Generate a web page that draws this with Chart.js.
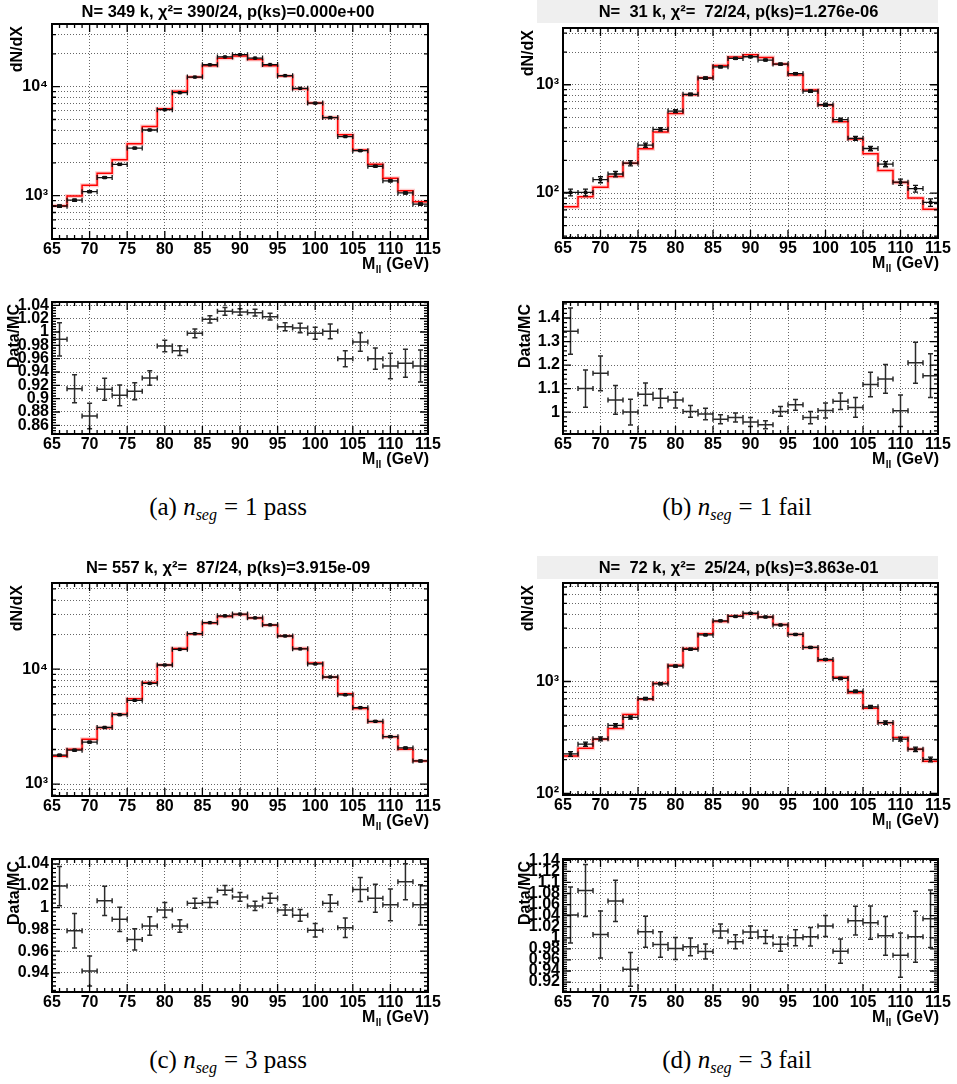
<!DOCTYPE html>
<html>
<head>
<meta charset="utf-8">
<title>Z mass, n_seg pass/fail</title>
<script src="https://cdn.jsdelivr.net/npm/chart.js@4.4.1/dist/chart.umd.min.js"></script>
<style>
  body { margin: 0; background: #fff; width: 957px; height: 1084px; position: relative; overflow: hidden; }
  canvas { position: absolute; }
  .caption { position: absolute; width: 340px; text-align: center; font-family: "Liberation Serif", "DejaVu Serif", serif; font-size: 25px; line-height: 28px; color: #000; white-space: nowrap; }
  .caption sub { font-size: 16px; font-style: italic; vertical-align: -5px; }
  .caption .eq { margin: 0 7px; }
</style>
</head>
<body>
<script>
// 2 GeV bins from 65 to 115 GeV
const binEdges = [65, 67, 69, 71, 73, 75, 77, 79, 81, 83, 85, 87, 89, 91, 93, 95, 97, 99, 101, 103, 105, 107, 109, 111, 113, 115];
const binCenters = [66, 68, 70, 72, 74, 76, 78, 80, 82, 84, 86, 88, 90, 92, 94, 96, 98, 100, 102, 104, 106, 108, 110, 112, 114];
const xLabels = [65, 70, 75, 80, 85, 90, 95, 100, 105, 110, 115];

// n_seg = 1, pass
const titlePass1 = 'N= 349 k, χ²= 390/24, p(ks)=0.000e+00';
const mcPass1 = [809, 993, 1245, 1603, 2138, 3000, 4300, 6280, 9060, 12270, 15600, 18200, 19100, 17800, 15600, 12530, 9590, 7080, 5200, 3630, 2625, 1938, 1442, 1111, 881];
const dataPass1 = [800, 909, 1088, 1465, 1935, 2733, 4003, 6148, 8806, 12245, 15896, 18764, 19673, 18316, 15959, 12630, 9648, 7066, 5205, 3485, 2586, 1860, 1368, 1059, 836];
const ratioPass1 = [0.989, 0.915, 0.874, 0.914, 0.905, 0.911, 0.931, 0.979, 0.972, 0.998, 1.019, 1.031, 1.030, 1.029, 1.023, 1.008, 1.006, 0.998, 1.001, 0.960, 0.985, 0.960, 0.949, 0.953, 0.949];
const ratioErrPass1 = [0.025, 0.021, 0.019, 0.0165, 0.0155, 0.0127, 0.011, 0.0085, 0.0072, 0.0065, 0.0055, 0.0057, 0.005, 0.005, 0.005, 0.006, 0.007, 0.009, 0.011, 0.012, 0.014, 0.016, 0.019, 0.021, 0.024];

// n_seg = 1, fail
const titleFail1 = 'N=  31 k, χ²=  72/24, p(ks)=1.276e-06';
const mcFail1 = [74.8, 92.5, 113.5, 142.5, 189, 256, 366, 543, 809, 1160, 1508, 1799, 1891, 1787, 1552, 1228, 893, 649, 455, 315, 231, 162, 125, 90, 71];
const dataFail1 = [101.5, 101.5, 133, 150, 189, 277, 388, 571, 815, 1152, 1463, 1750, 1812, 1690, 1552, 1266, 872, 654, 476, 320, 258, 185, 126, 110, 82];
const ratioFail1 = [1.344, 1.100, 1.165, 1.052, 1.000, 1.076, 1.059, 1.051, 1.003, 0.992, 0.970, 0.977, 0.958, 0.946, 1.003, 1.031, 0.977, 1.007, 1.046, 1.020, 1.117, 1.141, 1.006, 1.210, 1.155];
const ratioErrFail1 = [0.098, 0.079, 0.074, 0.061, 0.055, 0.048, 0.040, 0.033, 0.025, 0.024, 0.019, 0.019, 0.019, 0.017, 0.021, 0.023, 0.026, 0.032, 0.035, 0.042, 0.052, 0.061, 0.067, 0.087, 0.093];

// n_seg = 3, pass
const titlePass3 = 'N= 557 k, χ²=  87/24, p(ks)=3.915e-09';
const mcPass3 = [1750, 2014, 2461, 3090, 4062, 5523, 7656, 10900, 15140, 20300, 25300, 28700, 29900, 27950, 24130, 19500, 15140, 11350, 8520, 6100, 4550, 3485, 2580, 2014, 1585];
const dataPass3 = [1785, 1972, 2318, 3109, 4017, 5363, 7526, 10880, 14880, 20380, 25430, 29160, 30200, 27990, 24350, 19460, 15030, 11110, 8554, 5987, 4627, 3516, 2586, 2062, 1589];
const ratioPass3 = [1.0197, 0.9788, 0.9418, 1.0062, 0.9892, 0.9708, 0.9831, 0.9978, 0.9831, 1.004, 1.0046, 1.016, 1.0098, 1.0015, 1.0086, 0.9978, 0.9929, 0.9791, 1.004, 0.9815, 1.0166, 1.0086, 1.0025, 1.0237, 1.0025];
const ratioErrPass3 = [0.018, 0.0158, 0.0138, 0.0134, 0.0112, 0.0098, 0.0085, 0.0068, 0.0058, 0.0046, 0.0046, 0.0042, 0.004, 0.0042, 0.0046, 0.0048, 0.0054, 0.0062, 0.0077, 0.009, 0.011, 0.0128, 0.0145, 0.0165, 0.0185];

// n_seg = 3, fail
const titleFail3 = 'N=  72 k, χ²=  25/24, p(ks)=3.863e-01';
const mcFail3 = [216, 253, 305, 380, 506, 695, 966, 1400, 1975, 2675, 3446, 3845, 4035, 3767, 3240, 2634, 2014, 1541, 1093, 792, 577, 427, 315, 248, 194];
const dataFail3 = [225, 275, 307, 405, 477, 703, 954, 1373, 1943, 2609, 3488, 3817, 4076, 3774, 3203, 2634, 2018, 1574, 1066, 817, 593, 429, 305, 248, 201];
const ratioFail3 = [1.0412, 1.0855, 1.006, 1.0667, 0.943, 1.011, 0.9879, 0.9806, 0.9836, 0.9752, 1.0121, 0.9927, 1.0103, 1.0018, 0.9885, 1.0, 1.0018, 1.0212, 0.9758, 1.031, 1.0273, 1.0036, 0.9685, 1.0018, 1.0345];
const ratioErrFail3 = [0.0506, 0.047, 0.0424, 0.0373, 0.0306, 0.0279, 0.023, 0.02, 0.016, 0.0136, 0.0127, 0.0127, 0.011, 0.012, 0.0127, 0.0145, 0.0167, 0.019, 0.022, 0.026, 0.030, 0.035, 0.04, 0.046, 0.052];

const FONT = '"Liberation Sans", Arial, Helvetica, sans-serif';
Chart.defaults.font.family = FONT;
Chart.defaults.font.size = 16;
Chart.defaults.font.weight = 'bold';
Chart.defaults.color = '#000';

const SUP = { 0: '⁰', 1: '¹', 2: '²', 3: '³', 4: '⁴', 5: '⁵' };

function logTicks(min, max) {
  const out = [];
  for (let e = Math.floor(Math.log10(min)); e <= Math.ceil(Math.log10(max)); e++) {
    for (let s = 1; s <= 9; s++) {
      const v = s * Math.pow(10, e);
      if (v >= min && v <= max) out.push({ value: v, major: s === 1 });
    }
  }
  return out;
}

function linTicks(min, max, step) {
  const out = [];
  for (let k = Math.ceil(min / step - 1e-9); k * step <= max + 1e-9; k++) {
    out.push({ value: Math.round(k * step * 1e5) / 1e5 });
  }
  return out;
}

// ROOT-like pad: title, axis titles, framed box with inward ticks, error crosses
const rootPad = {
  id: 'rootPad',
  beforeDraw(chart, args, o) {
    if (!o.grey) return;
    const a = chart.chartArea, ctx = chart.ctx;
    ctx.save();
    ctx.fillStyle = '#efefef';
    ctx.fillRect(a.left - 26, a.top - o.titleDy - 12, a.right - a.left + 26, 23);
    ctx.restore();
  },
  afterDatasetsDraw(chart, args, o) {
    const ctx = chart.ctx, a = chart.chartArea;
    const xs = chart.scales.x, ys = chart.scales.y;

    ctx.save();
    ctx.beginPath();
    ctx.rect(a.left, a.top, a.right - a.left, a.bottom - a.top);
    ctx.clip();
    chart.data.datasets.forEach(ds => {
      if (!ds.errRel) return;
      ctx.strokeStyle = ds.crossColor;
      ctx.lineWidth = ds.crossWidth;
      ctx.beginPath();
      ds.data.forEach((d, i) => {
        const e = ds.errRel[i] * d.y;
        const px = xs.getPixelForValue(d.x), py = ys.getPixelForValue(d.y);
        const x0 = xs.getPixelForValue(d.x - 1), x1 = xs.getPixelForValue(d.x + 1);
        const y0 = ys.getPixelForValue(d.y + e), y1 = ys.getPixelForValue(d.y - e);
        ctx.moveTo(x0, py); ctx.lineTo(x1, py);
        ctx.moveTo(x0, py - 2.5); ctx.lineTo(x0, py + 2.5);
        ctx.moveTo(x1, py - 2.5); ctx.lineTo(x1, py + 2.5);
        ctx.moveTo(px, y0); ctx.lineTo(px, y1);
        ctx.moveTo(px - 2.5, y0); ctx.lineTo(px + 2.5, y0);
        ctx.moveTo(px - 2.5, y1); ctx.lineTo(px + 2.5, y1);
      });
      ctx.stroke();
    });
    ctx.restore();

    ctx.save();
    ctx.strokeStyle = '#000';
    ctx.lineWidth = 1.3;
    ctx.beginPath();
    for (let v = binEdges[0]; v <= binEdges[binEdges.length - 1]; v++) {
      const px = xs.getPixelForValue(v), len = v % 5 === 0 ? 8 : 4;
      ctx.moveTo(px, a.bottom); ctx.lineTo(px, a.bottom - len);
      ctx.moveTo(px, a.top); ctx.lineTo(px, a.top + len);
    }
    const yt = o.log
      ? logTicks(ys.min, ys.max)
      : linTicks(ys.min, ys.max, o.step / 5).map(t => ({
          value: t.value,
          major: Math.abs(t.value / o.step - Math.round(t.value / o.step)) < 1e-6
        }));
    yt.forEach(t => {
      const py = ys.getPixelForValue(t.value), len = t.major ? 8 : 4;
      ctx.moveTo(a.left, py); ctx.lineTo(a.left + len, py);
      ctx.moveTo(a.right, py); ctx.lineTo(a.right - len, py);
    });
    ctx.stroke();
    ctx.lineWidth = 2;
    ctx.strokeRect(a.left, a.top, a.right - a.left, a.bottom - a.top);
    ctx.restore();
  },
  afterDraw(chart, args, o) {
    const ctx = chart.ctx, a = chart.chartArea;
    const big = 'bold 16px ' + FONT, small = 'bold 10px ' + FONT;
    ctx.save();
    ctx.fillStyle = '#000';
    if (o.title) {
      ctx.font = 'bold 16.5px ' + FONT;
      ctx.textAlign = 'center';
      ctx.textBaseline = 'middle';
      ctx.fillText(o.title, (a.left + a.right) / 2 - 12, a.top - o.titleDy);
    }
    ctx.font = big;
    // rotated y title, anchored at the top of the frame
    ctx.save();
    ctx.translate(a.left - o.yTitleDx, a.top + 2);
    ctx.rotate(-Math.PI / 2);
    ctx.textAlign = 'right';
    ctx.textBaseline = 'middle';
    ctx.fillText(o.yTitle, 0, 0);
    ctx.restore();
    // x title M_ll (GeV), right aligned to the frame
    const yx = a.bottom + 26;
    ctx.textAlign = 'left';
    ctx.textBaseline = 'middle';
    const wM = ctx.measureText('M').width, tail = ' (GeV)', wT = ctx.measureText(tail).width;
    ctx.font = small;
    const wS = ctx.measureText('ll').width;
    const x0 = a.right - wM - wS - wT;
    ctx.font = big;
    ctx.fillText('M', x0, yx);
    ctx.font = small;
    ctx.fillText('ll', x0 + wM + 0.5, yx + 5);
    ctx.font = big;
    ctx.fillText(tail, x0 + wM + wS + 1, yx);
    ctx.restore();
  }
};

const PAD_L = 52, PAD_R = 22, PAD_T = 30, PAD_B = 40;

function addCanvas(f) {
  const c = document.createElement('canvas');
  const w = f.r - f.l + PAD_L + PAD_R, h = f.b - f.t + PAD_T + PAD_B;
  c.width = w; c.height = h;
  c.style.left = (f.l - PAD_L) + 'px';
  c.style.top = (f.t - PAD_T) + 'px';
  c.style.width = w + 'px';
  c.style.height = h + 'px';
  document.body.appendChild(c);
  return c;
}

function xAxis() {
  return {
    type: 'linear', min: 65, max: 115,
    afterBuildTicks: s => { s.ticks = xLabels.map(v => ({ value: v })); },
    afterFit: s => { s.height = PAD_B; },
    ticks: { autoSkip: false, maxRotation: 0, padding: 1, callback: v => String(v) },
    grid: { color: '#666', lineWidth: 1, drawTicks: false },
    border: { display: false, dash: [1, 2] }
  };
}

function stepPoints(values) {
  const pts = [];
  values.forEach((v, i) => {
    pts.push({ x: binEdges[i], y: v });
    pts.push({ x: binEdges[i + 1], y: v });
  });
  return pts;
}

function histPanel(p) {
  new Chart(addCanvas(p.frame), {
    type: 'line',
    data: {
      datasets: [
        { data: p.data.map((v, i) => ({ x: binCenters[i], y: v })), showLine: false,
          pointStyle: 'rect', pointRadius: 2.4, pointBackgroundColor: '#000', pointBorderWidth: 0,
          errRel: p.err.map((e, i) => e / p.ratio[i]), crossColor: '#111', crossWidth: 1.3 },
        { data: stepPoints(p.mc), borderColor: '#ff0000', borderWidth: 1.5, pointRadius: 0, tension: 0 },
        { data: stepPoints(p.mc), borderColor: 'rgba(255,80,80,0.28)', borderWidth: 4, pointRadius: 0, tension: 0 }
      ]
    },
    options: {
      responsive: false, animation: false,
      layout: { padding: { left: 0, right: PAD_R, top: PAD_T, bottom: 0 } },
      scales: {
        x: xAxis(),
        y: {
          type: 'logarithmic', min: p.yMin, max: p.yMax,
          afterBuildTicks: s => { s.ticks = logTicks(s.min, s.max); },
          afterFit: s => { s.width = PAD_L; },
          ticks: {
            autoSkip: false, padding: 4,
            callback: v => {
              const e = Math.log10(v), r = Math.round(e);
              return Math.abs(e - r) < 1e-9 ? '10' + SUP[r] : '';
            }
          },
          grid: { color: '#666', lineWidth: 1, drawTicks: false },
          border: { display: false, dash: [1, 2] }
        }
      },
      plugins: {
        legend: { display: false }, tooltip: { enabled: false },
        rootPad: { log: true, title: p.title, titleDy: p.titleDy, grey: p.grey, yTitle: 'dN/dX', yTitleDx: 34 }
      }
    },
    plugins: [rootPad]
  });
}

function ratioPanel(p) {
  new Chart(addCanvas(p.frame), {
    type: 'line',
    data: {
      datasets: [
        { data: p.ratio.map((v, i) => ({ x: binCenters[i], y: v })), showLine: false, pointRadius: 0,
          errRel: p.err.map((e, i) => e / p.ratio[i]), crossColor: '#2a2a2a', crossWidth: 1.5 }
      ]
    },
    options: {
      responsive: false, animation: false,
      layout: { padding: { left: 0, right: PAD_R, top: PAD_T, bottom: 0 } },
      scales: {
        x: xAxis(),
        y: {
          type: 'linear', min: p.yMin, max: p.yMax,
          afterBuildTicks: s => { s.ticks = linTicks(s.min, s.max, p.step); },
          afterFit: s => { s.width = PAD_L; },
          ticks: { autoSkip: false, padding: 3, callback: v => String(parseFloat(v.toFixed(3))) },
          grid: { color: '#666', lineWidth: 1, drawTicks: false },
          border: { display: false, dash: [1, 2] }
        }
      },
      plugins: {
        legend: { display: false }, tooltip: { enabled: false },
        rootPad: { log: false, step: p.step, yTitle: 'Data/MC', yTitleDx: 37 }
      }
    },
    plugins: [rootPad]
  });
}

histPanel({ frame: { l: 52, r: 428, t: 24, b: 239 }, mc: mcPass1, data: dataPass1, ratio: ratioPass1, err: ratioErrPass1,
  yMin: 400, yMax: 37600, title: titlePass1, titleDy: 12, grey: false });
ratioPanel({ frame: { l: 52, r: 428, t: 302, b: 434 }, ratio: ratioPass1, err: ratioErrPass1, yMin: 0.847, yMax: 1.045, step: 0.02 });

histPanel({ frame: { l: 563, r: 938, t: 28, b: 238 }, mc: mcFail1, data: dataFail1, ratio: ratioFail1, err: ratioErrFail1,
  yMin: 38.5, yMax: 3340, title: titleFail1, titleDy: 16, grey: true });
ratioPanel({ frame: { l: 563, r: 938, t: 302, b: 434 }, ratio: ratioFail1, err: ratioErrFail1, yMin: 0.907, yMax: 1.468, step: 0.1 });

histPanel({ frame: { l: 52, r: 428, t: 583, b: 796 }, mc: mcPass3, data: dataPass3, ratio: ratioPass3, err: ratioErrPass3,
  yMin: 787, yMax: 56300, title: titlePass3, titleDy: 15, grey: false });
ratioPanel({ frame: { l: 52, r: 428, t: 859, b: 992 }, ratio: ratioPass3, err: ratioErrPass3, yMin: 0.9225, yMax: 1.0446, step: 0.02 });

histPanel({ frame: { l: 563, r: 938, t: 583, b: 795 }, mc: mcFail3, data: dataFail3, ratio: ratioFail3, err: ratioErrFail3,
  yMin: 96.6, yMax: 7600, title: titleFail3, titleDy: 15, grey: true });
ratioPanel({ frame: { l: 563, r: 938, t: 859, b: 992 }, ratio: ratioFail3, err: ratioErrFail3, yMin: 0.902, yMax: 1.1424, step: 0.02 });

// sub-figure captions
[
  { x: 228, y: 507, label: 'a', n: 1, cut: 'pass' },
  { x: 737, y: 507, label: 'b', n: 1, cut: 'fail' },
  { x: 228, y: 1060, label: 'c', n: 3, cut: 'pass' },
  { x: 737, y: 1060, label: 'd', n: 3, cut: 'fail' }
].forEach(c => {
  const d = document.createElement('div');
  d.className = 'caption';
  d.style.left = (c.x - 170) + 'px';
  d.style.top = (c.y - 14) + 'px';
  d.innerHTML = '(' + c.label + ') <i>n</i><sub>seg</sub><span class="eq">=</span>' + c.n + ' ' + c.cut;
  document.body.appendChild(d);
});
</script>
</body>
</html>
